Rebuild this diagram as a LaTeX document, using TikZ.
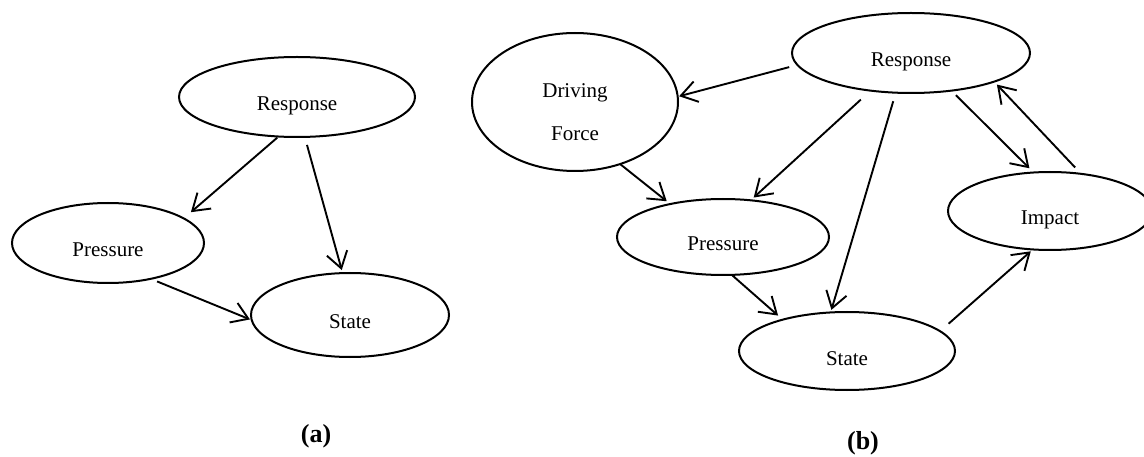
\documentclass[tikz,border=0pt]{standalone}
\usepackage{fontspec}
\setmainfont{Liberation Serif}
\usetikzlibrary{shapes.geometric,arrows.meta}
\tikzset{
  ell/.style={draw, ellipse, line width=2pt, inner sep=0pt, outer sep=0pt,
    text height=28pt, text depth=0pt, font=\fontsize{21}{25}\selectfont},
  arr/.style={line width=1.9pt, -{Straight Barb[length=16pt,width=21pt,line width=1.9pt]}},
  lbl/.style={inner sep=0pt, font=\fontsize{26}{30}\selectfont\bfseries}
}
\begin{document}
\begin{tikzpicture}[x=1pt,y=-1pt]
\fill[white] (0,0) rectangle (1144,457);
\useasboundingbox (0,0) rectangle (1144,457);
% (a)
\node[ell, minimum width=236pt, minimum height=80pt] (ra) at (297,97) {Response};
\node[ell, minimum width=192pt, minimum height=80pt] (pa) at (108,243) {Pressure};
\node[ell, minimum width=198pt, minimum height=84pt] (sa) at (350,315) {State};
\draw[arr, shorten <=1.6pt, shorten >=9.5pt] (ra.245.1) -- (pa.18.4);
\draw[arr, shorten <=8.3pt, shorten >=3.2pt] (ra.281.8) -- (sa.100.1);
\draw[arr, shorten <=6.9pt, shorten >=1.9pt] (pa.320.8) -- (sa.183.4);
\node[lbl] (la) at (316,436) {(a)};
% (b)
\node[ell, minimum width=206pt, minimum height=138pt, text height=33.5pt] (df) at (575,102)
  {\begin{tabular}{@{}c@{}}Driving\\[18pt]Force\end{tabular}};
\node[ell, minimum width=238pt, minimum height=80pt] (rb) at (911,53) {Response};
\node[ell, minimum width=212pt, minimum height=76pt] (pb) at (723,237) {Pressure};
\node[ell, minimum width=216pt, minimum height=78pt] (sb) at (847,351) {State};
\node[ell, minimum width=204pt, minimum height=78pt] (ib) at (1050,211) {Impact};
\draw[arr, shorten <=8.5pt, shorten >=1.5pt] (rb.186.6) -- (df.3.85);
\draw[arr, shorten <=0pt, shorten >=4.5pt] (df.306.3) -- (pb.148.9);
\draw[arr, shorten <=13.3pt, shorten >=4.1pt] (rb.223.8) -- (pb.53.1);
\draw[arr, shorten <=8.9pt, shorten >=2.7pt] (rb.249.4) -- (sb.113.7);
\draw[arr, shorten <=1.1pt, shorten >=6.2pt] (pb.283) -- (sb.154.1);
\draw[arr, shorten <=6.4pt, shorten >=6pt] (rb.317) -- (ib.113.4);
\draw[arr, shorten <=8.8pt, shorten >=4.1pt] (ib.50.7) -- (rb.341);
\draw[arr, shorten <=11.4pt, shorten >=2.8pt] (sb.12.6) -- (ib.246.3);
\node[lbl] (lb) at (863,443) {(b)};
\end{tikzpicture}
\end{document}
